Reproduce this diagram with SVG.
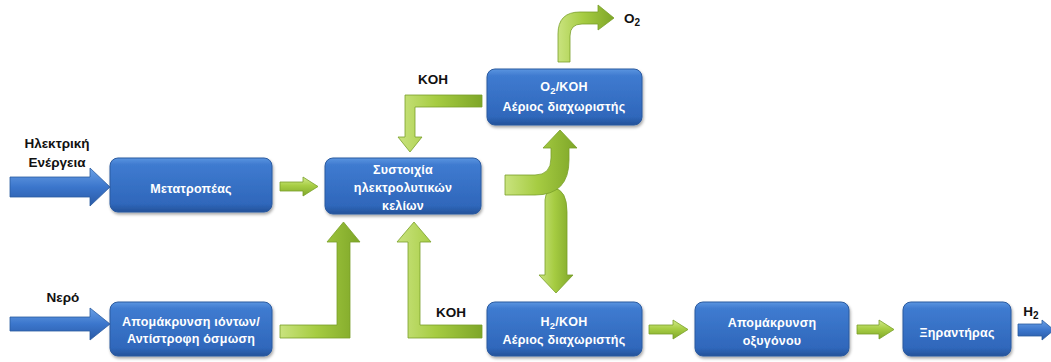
<svg xmlns="http://www.w3.org/2000/svg" width="1051" height="362" viewBox="0 0 1051 362">
<defs>
<linearGradient id="gBox" x1="0" y1="0" x2="0" y2="1">
<stop offset="0" stop-color="#5b95e0"/>
<stop offset="0.12" stop-color="#3f7bd0"/>
<stop offset="0.85" stop-color="#2f67bb"/>
<stop offset="1" stop-color="#24529a"/>
</linearGradient>
<linearGradient id="gBlueArr" x1="0" y1="0" x2="0" y2="1">
<stop offset="0" stop-color="#6aa0e6"/>
<stop offset="0.5" stop-color="#3b76cc"/>
<stop offset="1" stop-color="#2a5aa6"/>
</linearGradient>
<linearGradient id="gGreenH" x1="0" y1="0" x2="0" y2="1">
<stop offset="0" stop-color="#d2ea8c"/>
<stop offset="0.45" stop-color="#a8ce45"/>
<stop offset="1" stop-color="#80a82a"/>
</linearGradient>
<linearGradient id="gGreenV" x1="0" y1="0" x2="1" y2="0">
<stop offset="0" stop-color="#c9e37e"/>
<stop offset="0.45" stop-color="#a6cc42"/>
<stop offset="1" stop-color="#7ea628"/>
</linearGradient>
<filter id="sh" x="-10%" y="-10%" width="120%" height="130%">
<feDropShadow dx="1" dy="2" stdDeviation="1.5" flood-color="#000" flood-opacity="0.35"/>
</filter>
</defs>
<style>
.box{fill:url(#gBox);stroke:#2a5a9f;stroke-width:1;filter:url(#sh)}
.bt{font-family:"Liberation Sans",Arial,sans-serif;font-weight:bold;font-size:12.5px;letter-spacing:0.2px;fill:#ffffff;text-anchor:middle}
.lb{font-family:"Liberation Sans",Arial,sans-serif;font-weight:bold;font-size:13.5px;fill:#111111;text-anchor:middle}
.ga{fill:url(#gGreenH);stroke:#78a028;stroke-width:0.8}
.gv{fill:url(#gGreenV);stroke:#78a028;stroke-width:0.8}
.ba{fill:url(#gBlueArr);stroke:#2a5a9f;stroke-width:0.8}
</style>

<g id="connectors">
<path id="c-elec" class="ba" d="M10,177 H90 V168 L110,187 L90,206 V197 H10 Z"/>
<path id="c-water" class="ba" d="M10,317 H90 V308 L110,324 L90,340 V331 H10 Z"/>
<path id="c-h2out" class="ba" d="M1018,324 H1042 V320 L1054,330 L1042,340 V336 H1018 Z"/>
<path id="c-conv-stack" class="ga" d="M280,182 H303 V177 L318,186.5 L303,196 V191 H280 Z"/>
<path id="c-koh-top" class="gv" d="M482,95 H405 V137 H398 L410,152 L422,137 H415 V107 H482 Z"/>
<path id="c-ion-stack" class="gv" d="M280,325 H337 V242 H327 L343.5,222 L360,242 H350 V338 H280 Z"/>
<path id="c-koh-bottom" class="gv" d="M482,325 H420 V242 H431 L414,222 L397,242 H408 V338 H482 Z"/>
<path id="c-fork-down" class="gv" d="M545,200 Q546,189 554,188 Q567,190 567,212 V275 H573 L556,293 L539,275 H545 Z"/>
<path id="c-fork-up" class="gv" d="M505,175 H535 Q551,175 551,158 V148 H543 L560,130 L577,148 H569 V160 Q569,195 535,195 H505 Z"/>
<path id="c-o2out" class="gv" d="M558,62 V34 Q558,12 580,12 H598 V5 L614,18 L598,30 V24 H582 Q570,24 570,36 V62 Z"/>
<path id="c-h2sep-o2rem" class="ga" d="M649,325 H673 V320 L688,329.5 L673,339 V334 H649 Z"/>
<path id="c-o2rem-dryer" class="ga" d="M857,325 H879 V320 L894,329.5 L879,339 V334 H857 Z"/>
</g>

<g id="n-converter">
<rect class="box" x="110" y="158" width="162" height="54" rx="8"/>
<text class="bt" x="191" y="193">Μετατροπέας</text>
</g>
<g id="n-stack">
<rect class="box" x="325" y="158" width="156" height="56" rx="8"/>
<text class="bt" x="403" y="174">Συστοιχία</text>
<text class="bt" x="403" y="192">ηλεκτρολυτικών</text>
<text class="bt" x="403" y="210">κελίων</text>
</g>
<g id="n-o2sep">
<rect class="box" x="487" y="69" width="155" height="56" rx="8"/>
<text class="bt" x="564" y="91">O<tspan font-size="9.5" dy="3">2</tspan><tspan dy="-3">/KOH</tspan></text>
<text class="bt" x="564" y="111">Αέριος διαχωριστής</text>
</g>
<g id="n-ion">
<rect class="box" x="110" y="302" width="162" height="54" rx="8"/>
<text class="bt" x="191" y="326">Απομάκρυνση ιόντων/</text>
<text class="bt" x="191" y="343">Αντίστροφη όσμωση</text>
</g>
<g id="n-h2sep">
<rect class="box" x="487" y="302" width="155" height="54" rx="8"/>
<text class="bt" x="564" y="326">H<tspan font-size="9.5" dy="3">2</tspan><tspan dy="-3">/KOH</tspan></text>
<text class="bt" x="564" y="344">Αέριος διαχωριστής</text>
</g>
<g id="n-o2rem">
<rect class="box" x="695" y="302" width="154" height="54" rx="8"/>
<text class="bt" x="772" y="327">Απομάκρυνση</text>
<text class="bt" x="772" y="345">οξυγόνου</text>
</g>
<g id="n-dryer">
<rect class="box" x="903" y="302" width="108" height="54" rx="8"/>
<text class="bt" x="957" y="337">Ξηραντήρας</text>
</g>

<g id="labels">
<text class="lb" x="57" y="148">Ηλεκτρική</text>
<text class="lb" x="57" y="167">Ενέργεια</text>
<text class="lb" x="63" y="302">Νερό</text>
<text class="lb" x="433" y="84" font-size="13">KOH</text>
<text class="lb" x="451" y="317" font-size="13">KOH</text>
<text class="lb" x="632" y="23" font-size="12">O<tspan font-size="10" dy="3">2</tspan></text>
<text class="lb" x="1031" y="316" font-size="12">H<tspan font-size="10" dy="3">2</tspan></text>
</g>
</svg>
